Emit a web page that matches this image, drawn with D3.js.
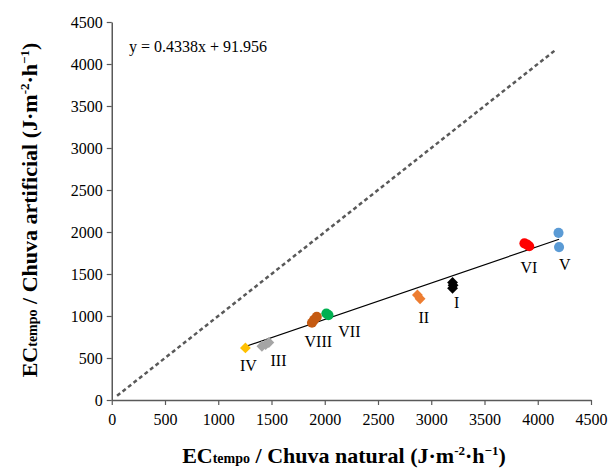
<!DOCTYPE html>
<html>
<head>
<meta charset="utf-8">
<script src="https://cdn.jsdelivr.net/npm/d3@7"></script>
<style>
  body { margin: 0; background: #fff; }
  svg text { font-family: 'Liberation Serif', 'Times New Roman', serif !important; }
</style>
</head>
<body>
<svg width="613" height="470" font-family="Liberation Serif"></svg>
<script>
// treatments (roman numerals) and their EC values
var groups = ["I", "II", "III", "IV", "V", "VI", "VII", "VIII"];
var natural = [
  [3200, 3205, 3200],
  [2870, 2895],
  [1410, 1445, 1475],
  [1255],
  [4195, 4200],
  [3875, 3900, 3920],
  [2015, 2035],
  [1880, 1900, 1925]
];
var artificial = [
  [1400, 1365, 1330],
  [1250, 1205],
  [640, 660, 685],
  [620],
  [1990, 1820],
  [1865, 1850, 1830],
  [1030, 1010],
  [920, 955, 990]
];
var colors = ["#000000", "#ED7D31", "#A5A5A5", "#FFC000", "#5B9BD5", "#FF0000", "#00B050", "#C55A11"];
var shapes = ["diamond", "diamond", "diamond", "diamond", "circle", "circle", "circle", "circle"];

var ticks = [0, 500, 1000, 1500, 2000, 2500, 3000, 3500, 4000, 4500];
var slope = 0.4338, intercept = 91.956;
var fitRange = [1255, 4200];
var oneToOne = [50, 4170];

// label offsets from group centre (px)
var labelOff = [[4, 23], [5, 26], [13, 22], [3, 23], [6, 30], [2, 28], [22, 23], [4, 27]];

var svg = d3.select("svg");

var x = d3.scaleLinear().domain([0, 4500]).range([111.75, 591]);
var y = d3.scaleLinear().domain([0, 4500]).range([400, 22]);

var axisColor = "#595959";

// axes
var gx = svg.append("g")
    .attr("transform", "translate(0," + y(0) + ")")
    .call(d3.axisBottom(x).tickValues(ticks).tickSize(5).tickSizeOuter(0).tickFormat(d3.format("d")));
var gy = svg.append("g")
    .attr("transform", "translate(" + x(0) + ",0)")
    .call(d3.axisLeft(y).tickValues(ticks).tickSize(5).tickSizeOuter(0).tickFormat(d3.format("d")));

[gx, gy].forEach(function(g) {
  g.attr("font-family", null).attr("font-size", null);
  g.select(".domain").attr("stroke", axisColor).attr("stroke-width", 1.5);
  g.selectAll(".tick line").attr("stroke", axisColor).attr("stroke-width", 1.2);
  g.selectAll(".tick text")
    .attr("fill", "#000")
    .style("font-size", "16px");
});
gx.selectAll(".tick text").attr("dy", "1.05em");
gy.selectAll(".tick text").attr("dy", "0.35em").attr("x", -9);

// 1:1 dashed line
svg.append("line")
    .attr("x1", x(oneToOne[0])).attr("y1", y(oneToOne[0]))
    .attr("x2", x(oneToOne[1])).attr("y2", y(oneToOne[1]))
    .attr("stroke", "#595959")
    .attr("stroke-width", 2.5)
    .attr("stroke-dasharray", "4,3");

// regression line
svg.append("line")
    .attr("x1", x(fitRange[0])).attr("y1", y(slope * fitRange[0] + intercept))
    .attr("x2", x(fitRange[1])).attr("y2", y(slope * fitRange[1] + intercept))
    .attr("stroke", "#000")
    .attr("stroke-width", 1.2);

// points
var pts = [];
groups.forEach(function(g, i) {
  natural[i].forEach(function(v, j) {
    pts.push({g: i, nx: v, ay: artificial[i][j]});
  });
});

var diamond = d3.symbol().type(d3.symbolDiamond2).size(75);
var circle = d3.symbol().type(d3.symbolCircle).size(80);

svg.append("g").selectAll("path")
  .data(pts)
  .enter().append("path")
    .attr("transform", function(d) { return "translate(" + x(d.nx) + "," + y(d.ay) + ")"; })
    .attr("d", function(d) { return shapes[d.g] == "diamond" ? diamond() : circle(); })
    .attr("fill", function(d) { return colors[d.g]; });

// roman labels
svg.append("g").selectAll("text")
  .data(groups)
  .enter().append("text")
    .attr("x", function(d, i) { return x(d3.mean(natural[i])) + labelOff[i][0]; })
    .attr("y", function(d, i) { return y(d3.mean(artificial[i])) + labelOff[i][1]; })
    .attr("text-anchor", "middle")
    .style("font-size", "16px")
    .text(function(d) { return d; });

// equation
svg.append("text")
    .attr("x", 129).attr("y", 52)
    .style("font-size", "16px")
    .text("y = 0.4338x + 91.956");

// axis titles
function title(sel, main) {
  sel.style("font-size", "22px").style("font-weight", "bold");
  sel.append("tspan").text("EC");
  sel.append("tspan").style("font-size", "14px").text("tempo");
  sel.append("tspan").text(" / " + main + " (J\u00b7m");
  sel.append("tspan").attr("dy", -8).style("font-size", "13px").text("-2");
  sel.append("tspan").attr("dy", 8).text("\u00b7h");
  sel.append("tspan").attr("dy", -8).style("font-size", "13px").text("\u22121");
  sel.append("tspan").attr("dy", 8).text(")");
}

svg.append("text")
    .attr("x", 344).attr("y", 463)
    .attr("text-anchor", "middle")
    .call(title, "Chuva natural");

svg.append("text")
    .attr("transform", "translate(37,210) rotate(-90)")
    .attr("text-anchor", "middle")
    .call(title, "Chuva artificial");
</script>
</body>
</html>
